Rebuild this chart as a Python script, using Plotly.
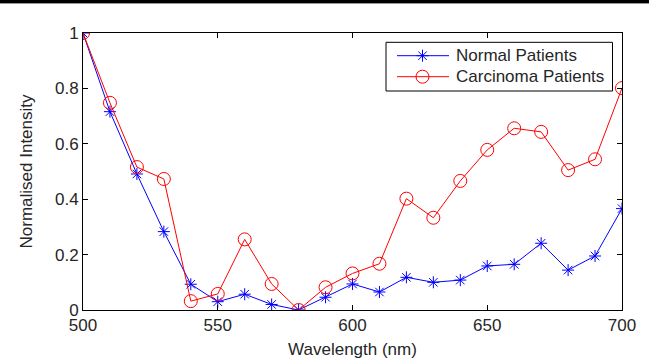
import plotly.graph_objects as go

wavelength = [500, 510, 520, 530, 540, 550, 560, 570, 580, 590, 600,
              610, 620, 630, 640, 650, 660, 670, 680, 690, 700]
normal = [1.0, 0.716, 0.491, 0.283, 0.093, 0.030, 0.057, 0.020, 0.0, 0.046, 0.094,
          0.065, 0.118, 0.100, 0.108, 0.159, 0.165, 0.241, 0.144, 0.195, 0.366]
carcinoma = [1.0, 0.748, 0.516, 0.473, 0.032, 0.058, 0.255, 0.094, 0.0, 0.082, 0.132,
             0.167, 0.402, 0.333, 0.466, 0.578, 0.656, 0.643, 0.505, 0.544, 0.801]
series_names = ["Normal Patients", "Carcinoma Patients"]
x_ticks = [500, 550, 600, 650, 700]
y_ticks = [0, 0.2, 0.4, 0.6, 0.8, 1]
y_tick_text = ["0", "0.2", "0.4", "0.6", "0.8", "1"]

FONT = "Liberation Sans, Arial, sans-serif"
TXT = "#262626"
FS = 17

styles = [
    dict(color="#0000ff", symbol="asterisk-open", size=10),
    dict(color="#ff0000", symbol="circle-open", size=13),
]

fig = go.Figure()
for name, vals, st in zip(series_names, [normal, carcinoma], styles):
    fig.add_trace(go.Scatter(
        x=wavelength, y=vals, name=name, mode="lines+markers", showlegend=False,
        line=dict(color=st["color"], width=1),
        marker=dict(symbol=st["symbol"], size=st["size"], color=st["color"],
                    line=dict(color=st["color"], width=1)),
    ))

axis_common = dict(
    showline=True, linecolor="black", linewidth=1, mirror="allticks",
    ticks="inside", ticklen=5, tickcolor="black", tickwidth=1,
    showgrid=False, zeroline=False, automargin=False,
    tickfont=dict(family=FONT, size=FS, color=TXT),
)

fig.update_xaxes(range=[500, 700], tickvals=x_ticks,
                 title=dict(text="Wavelength (nm)", font=dict(family=FONT, size=FS, color=TXT), standoff=8),
                 **axis_common)
fig.update_yaxes(range=[0, 1], tickvals=y_ticks, ticktext=y_tick_text,
                 title=dict(text="Normalised Intensity", font=dict(family=FONT, size=FS, color=TXT), standoff=18),
                 **axis_common)

# ---- custom legend (MATLAB style) in plot-area-fraction coordinates ----
W, H = 539.0, 277.0
def px(x):
    return (x - 83) / W
def py(y):
    return (310 - y) / H

fig.add_shape(type="rect", xref="paper", yref="paper",
              x0=px(386), x1=px(612.5), y0=py(91), y1=py(42.3),
              fillcolor="white", line=dict(color="black", width=1), layer="below")
row_y = [py(55.7), py(76.7)]
for ry, st in zip(row_y, styles):
    fig.add_shape(type="line", xref="paper", yref="paper",
                  x0=px(397), x1=px(449), y0=ry, y1=ry,
                  line=dict(color=st["color"], width=1), layer="below")
for ry, name, st in zip(row_y, series_names, styles):
    fig.add_trace(go.Scatter(
        x=[px(422.5)], y=[ry], mode="markers", xaxis="x2", yaxis="y2",
        showlegend=False, hoverinfo="skip", cliponaxis=False,
        marker=dict(symbol=st["symbol"], size=st["size"], color=st["color"],
                    line=dict(color=st["color"], width=1)),
    ))
    fig.add_annotation(x=px(454), y=ry, xref="paper", yref="paper",
                       text=name, showarrow=False, xanchor="left", yanchor="middle",
                       font=dict(family=FONT, size=FS, color=TXT))

fig.update_layout(
    xaxis2=dict(overlaying="x", range=[0, 1], visible=False, domain=[0, 1]),
    yaxis2=dict(overlaying="y", range=[0, 1], visible=False, domain=[0, 1]),
)

# black rule across the top edge of the picture
fig.add_shape(type="rect", xref="paper", yref="paper",
              x0=-83/539, x1=566/539, y0=(310-3)/277, y1=(310+1)/277,
              fillcolor="black", line=dict(width=0), layer="above")
fig.add_shape(type="line", xref="paper", yref="paper",
              x0=-83/539, x1=566/539, y0=(310-3.5)/277, y1=(310-3.5)/277,
              line=dict(color="#999999", width=1), layer="above")

fig.update_layout(
    width=649, height=362,
    margin=dict(l=83, r=27, t=33, b=52),
    paper_bgcolor="white", plot_bgcolor="white",
    font=dict(family=FONT, size=FS, color=TXT),
    showlegend=False,
)

fig.write_html("out.html", config={"displayModeBar": False},
               post_script="document.body.style.margin='0';document.body.style.overflow='hidden';")
